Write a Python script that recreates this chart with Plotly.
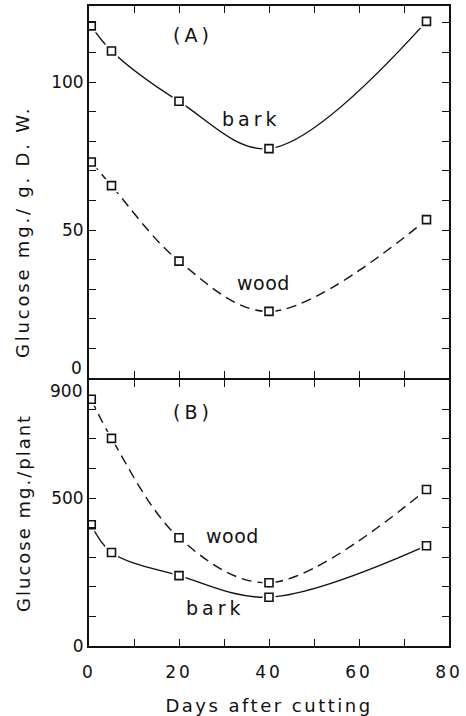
import plotly.graph_objects as go
from plotly.subplots import make_subplots

# ---- data ----
days = [0.5, 5, 20, 40, 75]
bark_A = [119, 110.5, 93.5, 77.5, 120.5]
wood_A = [73, 65, 39.5, 22.5, 53.5]
wood_B = [834, 702, 366, 214, 529]
bark_B = [410, 316, 238, 165, 339]

x_ticks = list(range(0, 81, 10))
x_labels = ["0", "", "20", "", "40", "", "60", "", "80"]
yA_ticks = list(range(0, 121, 10))
yA_labels = ["", "", "", "", "", "50", "", "", "", "", "100", "", ""]
yB_ticks = list(range(0, 901, 100))
yB_labels = ["0", "", "", "", "", "500", "", "", "", ""]

FONT = "DejaVu Sans"
INK = "#111111"
LW = 1.8


def spaced(s, ls):
    return f'<span style="letter-spacing:{ls}px">{s}</span>' if s else ""


fig = make_subplots(rows=2, cols=1, shared_xaxes=False, vertical_spacing=0)


def add_series(xs, ys, row, dash):
    fig.add_trace(go.Scatter(x=xs, y=ys, mode="lines",
                             line=dict(color=INK, width=1.4, shape="spline",
                                       smoothing=1.0, dash=dash),
                             hoverinfo="skip", showlegend=False), row=row, col=1)
    fig.add_trace(go.Scatter(x=xs, y=ys, mode="markers",
                             marker=dict(symbol="square", size=13, color="white",
                                         line=dict(width=0)),
                             hoverinfo="skip", showlegend=False), row=row, col=1)
    fig.add_trace(go.Scatter(x=xs, y=ys, mode="markers",
                             marker=dict(symbol="square-open", size=8, color=INK,
                                         line=dict(width=1.6, color=INK)),
                             hoverinfo="skip", showlegend=False), row=row, col=1)


add_series(days, bark_A, 1, "solid")
add_series(days, wood_A, 1, "10px,6px")
add_series(days, wood_B, 2, "10px,6px")
add_series(days, bark_B, 2, "solid")

axis_common = dict(showline=True, linecolor=INK, linewidth=LW, mirror="allticks",
                   ticks="inside", ticklen=7, tickwidth=1.4, tickcolor=INK,
                   showgrid=False, zeroline=False, automargin=False,
                   tickfont=dict(family=FONT, size=17, color=INK))

PH = 640.0
split = 268.0
fig.update_xaxes(**axis_common, range=[0, 80], tickmode="array",
                 tickvals=x_ticks, ticktext=[""] * len(x_ticks), row=1, col=1)
fig.update_xaxes(**axis_common, range=[0, 80], tickmode="array",
                 tickvals=x_ticks, ticktext=[spaced(t, 3) for t in x_labels],
                 ticklabelstandoff=10, row=2, col=1,
                 title=dict(text=spaced("Days after cutting", 2.5), standoff=18,
                            font=dict(family=FONT, size=18, color=INK)))
fig.update_yaxes(**axis_common, range=[0, 125.7], tickmode="array",
                 tickvals=yA_ticks, ticktext=yA_labels, row=1, col=1,
                 domain=[split / PH, 1])
fig.update_yaxes(**axis_common, range=[0, 900], tickmode="array",
                 tickvals=yB_ticks, ticktext=yB_labels, row=2, col=1,
                 domain=[0, (split - LW) / PH],
                 title=dict(text=spaced("Glucose mg./plant", 2), standoff=16,
                            font=dict(family=FONT, size=18, color=INK)))

txt = dict(family=FONT, size=19, color=INK)
ann = [
    dict(x=23, y=116, xref="x", yref="y", text=spaced("(A)", 4)),
    dict(x=36.2, y=87.5, xref="x", yref="y", text=spaced("bark", 4)),
    dict(x=38.7, y=32, xref="x", yref="y", text=spaced("wood", 0.5)),
    dict(x=23, y=792, xref="x2", yref="y2", text=spaced("(B)", 4)),
    dict(x=31.8, y=373, xref="x2", yref="y2", text=spaced("wood", 0.5)),
    dict(x=28, y=128, xref="x2", yref="y2", text=spaced("bark", 4)),
]
for a in ann:
    a.update(showarrow=False, font=txt)
# top-panel y title, placed lower than the panel centre as in the original
ann.append(dict(x=0, y=414 / PH, xref="paper", yref="paper", xshift=-67,
                xanchor="center", yanchor="middle",
                text=spaced("Glucose mg./ g. D. W.", 2.8), textangle=-90,
                showarrow=False, font=dict(family=FONT, size=18, color=INK)))
# shifted end labels at the panel junction
for ref, val, lab, dy in [("y", 0, "0", 10), ("y2", 900, "900", -11)]:
    ann.append(dict(x=0, y=val, xref="paper", yref=ref, text=lab, xanchor="right",
                    xshift=-5, yshift=dy, showarrow=False,
                    font=dict(family=FONT, size=17, color=INK)))
fig.update_layout(annotations=ann)

fig.update_layout(width=466, height=716, margin=dict(l=89, r=17, t=6, b=70),
                  paper_bgcolor="white", plot_bgcolor="white")

fig.write_html("out.html")
